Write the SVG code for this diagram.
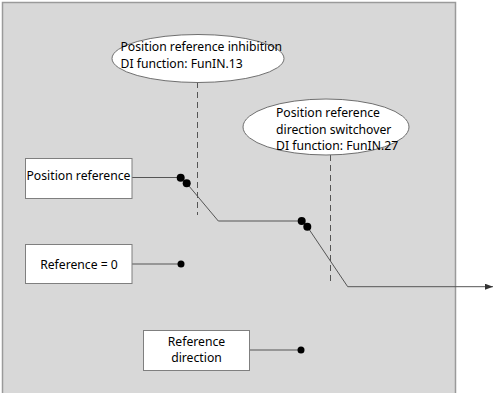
<svg xmlns="http://www.w3.org/2000/svg" width="495" height="393" viewBox="0 0 495 393">
  <defs>
    <style>
      .panel { fill: #d8d8d8; stroke: #9a9a9a; stroke-width: 1.5; }
      .box { fill: #ffffff; stroke: #7f7f7f; stroke-width: 1; }
      .oval { fill: #ffffff; stroke: #6f6f6f; stroke-width: 1; }
      .lbl { font-family: "Noto Sans", "Open Sans", sans-serif; font-size: 12.2px; fill: #000000; }
      .mid { text-anchor: middle; }
      .wire { fill: none; stroke: #555555; stroke-width: 1; }
      .dash { fill: none; stroke: #555555; stroke-width: 1; stroke-dasharray: 6 4; }
      .dot { fill: #000000; }
    </style>
    <marker id="arrow" viewBox="0 0 8 6" refX="8" refY="3" markerWidth="8" markerHeight="6" orient="auto" markerUnits="userSpaceOnUse">
      <path d="M0,0 L8,3 L0,6 Z" fill="#333333"/>
    </marker>
  </defs>

  <!-- background panel -->
  <rect class="panel" x="2.5" y="2.5" width="453" height="400"/>

  <!-- connectors -->
  <g id="connectors">
    <line class="dash" x1="197.5" y1="82" x2="197.5" y2="215"/>
    <line class="dash" x1="330.5" y1="155" x2="330.5" y2="283"/>
    <line class="wire" x1="132" y1="177.5" x2="180.7" y2="177.5"/>
    <polyline class="wire" points="186.7,183.3 218.3,221 301.7,221"/>
    <polyline class="wire" points="307.3,226.7 347.7,286.7 493,286.7" marker-end="url(#arrow)"/>
    <line class="wire" x1="132" y1="264" x2="181" y2="264"/>
    <line class="wire" x1="249" y1="350" x2="301" y2="350"/>
    <circle class="dot" cx="180.7" cy="177.7" r="4"/>
    <circle class="dot" cx="186.7" cy="183.3" r="4"/>
    <circle class="dot" cx="301.7" cy="221" r="4"/>
    <circle class="dot" cx="307.3" cy="226.7" r="4"/>
    <circle class="dot" cx="181" cy="264" r="3.5"/>
    <circle class="dot" cx="301" cy="350" r="3.5"/>
  </g>

  <g id="inhibition">
    <ellipse class="oval" cx="198" cy="58.5" rx="86" ry="24"/>
    <text class="lbl" x="120.5" y="51">Position reference inhibition</text>
    <text class="lbl" x="120.5" y="67.5">DI function: FunIN.13</text>
  </g>

  <g id="switchover">
    <ellipse class="oval" cx="326" cy="127" rx="83" ry="28"/>
    <text class="lbl" x="276" y="117">Position reference</text>
    <text class="lbl" x="276" y="133.5">direction switchover</text>
    <text class="lbl" x="276" y="150">DI function: FunIN.27</text>
  </g>

  <g id="position-reference">
    <rect class="box" x="25.5" y="158.5" width="106.5" height="40"/>
    <text class="lbl" x="26.5" y="179.5">Position reference</text>
  </g>

  <g id="reference-zero">
    <rect class="box" x="25.5" y="244.5" width="106.5" height="39"/>
    <text class="lbl mid" x="79" y="268.5">Reference = 0</text>
  </g>

  <g id="reference-direction">
    <rect class="box" x="143.5" y="330.5" width="106" height="40"/>
    <text class="lbl mid" x="196.5" y="346">Reference</text>
    <text class="lbl mid" x="196.5" y="362">direction</text>
  </g>
</svg>
